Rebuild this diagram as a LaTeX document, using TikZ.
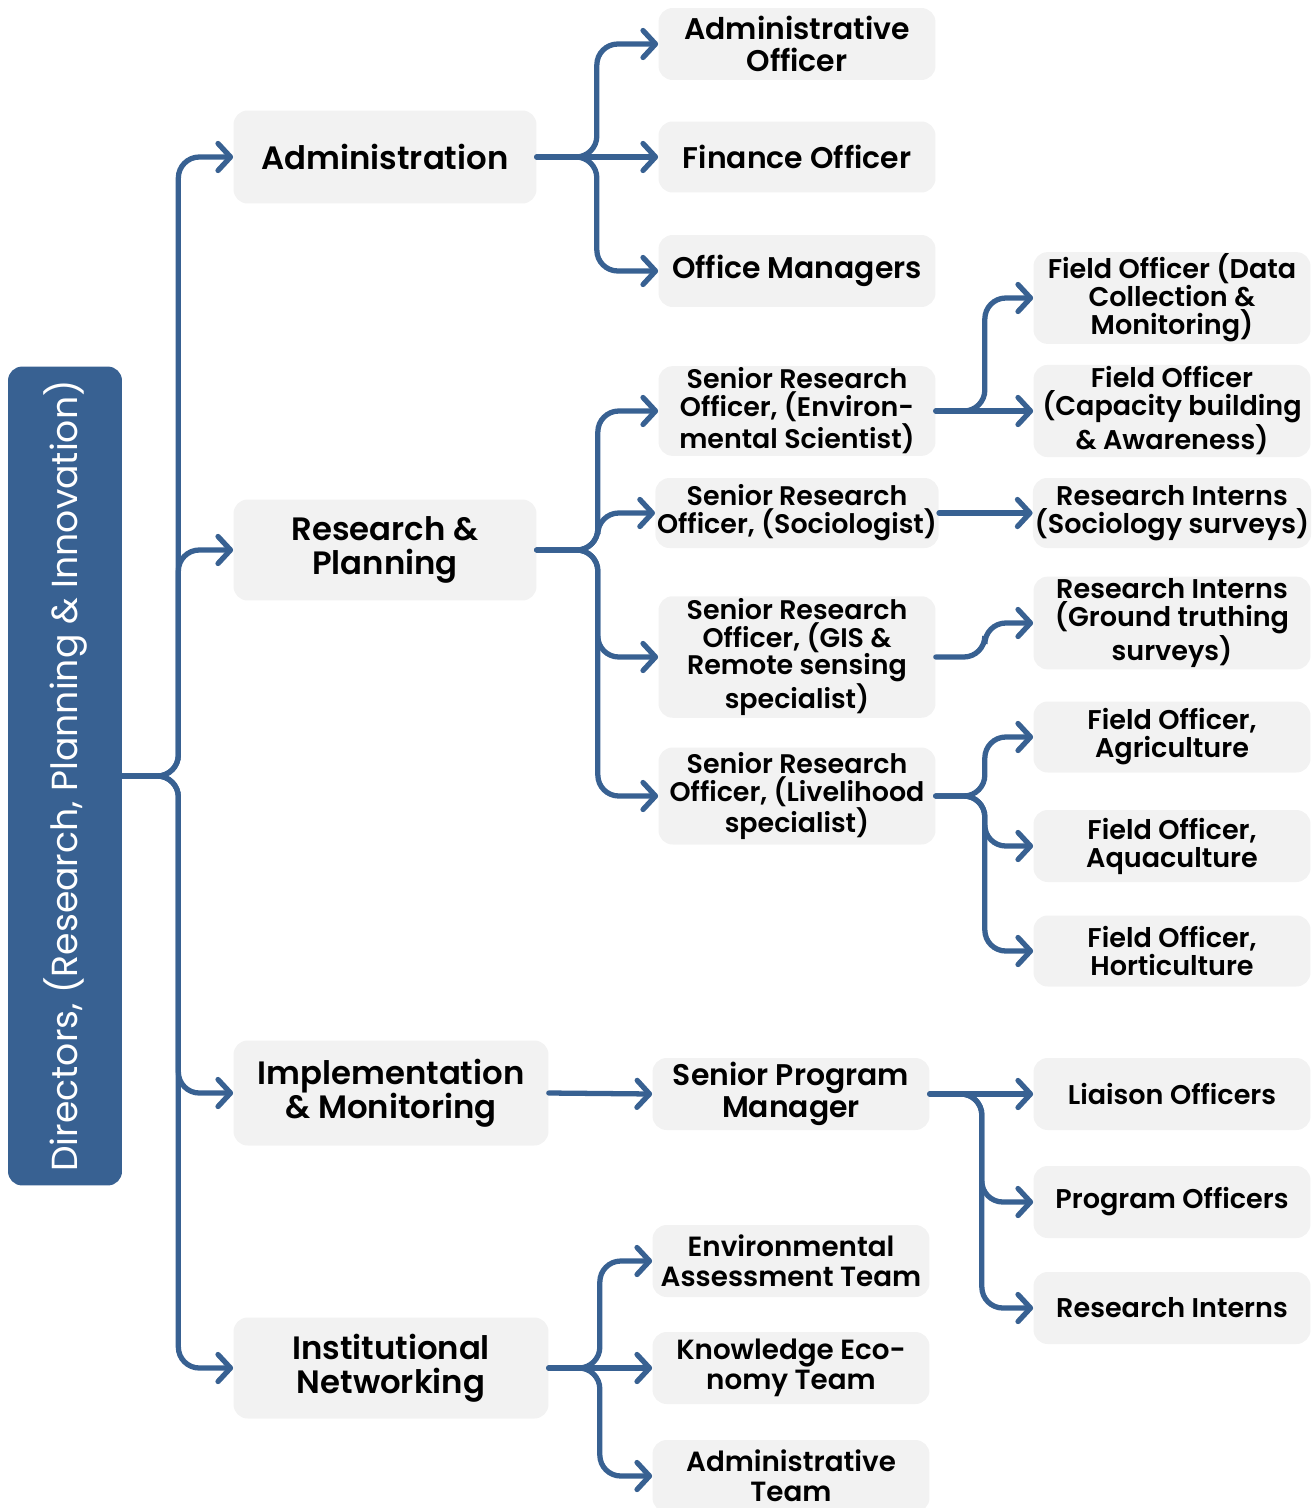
\documentclass[tikz,border=0pt]{standalone}
\usepackage{fontspec}
\setmainfont{Poppins}[BoldFont={Poppins SemiBold}]
\usetikzlibrary{arrows.meta, positioning}
\definecolor{linkblue}{RGB}{56, 97, 146}
\definecolor{boxgray}{RGB}{242, 242, 242}

\tikzset{
    box/.style={fill=boxgray, rounded corners=8pt, align=center, inner sep=1pt,
        text=black, font=\bfseries},
    lvlone/.style={box, minimum width=6.06cm, font=\bfseries\fontsize{18.4}{19.4}\selectfont},
    lvltwo/.style={box, minimum width=5.54cm, font=\bfseries\fontsize{15.3}{15.9}\selectfont},
    lvlthree/.style={box, minimum width=5.54cm, font=\bfseries\fontsize{15.4}{15.9}\selectfont},
    bigtwo/.style={lvltwo, font=\bfseries\fontsize{17}{18}\selectfont},
    teamtwo/.style={lvltwo, font=\bfseries\fontsize{15.8}{17}\selectfont},
    conn/.style={draw=linkblue, line width=3pt, rounded corners=0.42cm, line cap=round,
        -{Straight Barb[length=0.25cm, width=0.54cm, line cap=round, line join=round]}},
}

\begin{document}
\begin{tikzpicture}[x=0.02cm, y=-0.02cm]
    \useasboundingbox (0,0) rectangle (1314,1508);

    % Head
    \node[fill=linkblue, rounded corners=8pt, rotate=90, minimum width=16.38cm, minimum height=2.28cm,
        text=white, font=\fontsize{20.6}{22}\selectfont] (dir) at (65,776)
        {Directors, (Research, Planning \& Innovation)};

    % Departments
    \node[lvlone, minimum height=1.86cm] (adm) at (385,157) {Administration};
    \node[lvlone, minimum height=2.02cm] (rp) at (385,550) {Research \&\\Planning};
    \node[lvlone, minimum width=6.3cm, minimum height=2.1cm] (im) at (391,1093) {Implementation\\\& Monitoring};
    \node[lvlone, minimum width=6.3cm, minimum height=2.02cm] (inst) at (391,1368) {Institutional\\Networking};

    % Administration
    \node[bigtwo, minimum height=1.44cm] (ao) at (797,44) {Administrative\\Officer};
    \node[bigtwo, minimum height=1.42cm] (fo) at (797,157) {Finance Officer};
    \node[bigtwo, minimum height=1.44cm] (om) at (797,271) {Office Managers};

    % Research & Planning
    \node[lvltwo, minimum height=1.76cm] (sroe) at (797,411) {Senior Research\\Officer, (Environ-\\mental Scientist)};
    \node[lvltwo, minimum height=1.4cm] (sros) at (797,513) {Senior Research\\Officer, (Sociologist)};
    \node[lvltwo, minimum height=2.3cm] (srog) at (797,657) {Senior Research\\Officer, (GIS \&\\Remote sensing\\specialist)};
    \node[lvltwo, minimum height=1.94cm] (srol) at (797,796) {Senior Research\\Officer, (Livelihood\\specialist)};

    \node[lvlthree, minimum height=1.72cm] (fod) at (1172,298) {Field Officer (Data\\Collection \&\\Monitoring)};
    \node[lvlthree, minimum height=1.7cm] (foc) at (1172,411) {Field Officer\\(Capacity building\\\& Awareness)};
    \node[lvlthree, minimum height=1.4cm] (ris) at (1172,513) {Research Interns\\(Sociology surveys)};
    \node[lvlthree, minimum height=1.84cm] (rig) at (1172,623) {Research Interns\\(Ground truthing\\surveys)};
    \node[lvlthree, minimum height=1.42cm] (foa) at (1172,737) {Field Officer,\\Agriculture};
    \node[lvlthree, minimum height=1.44cm] (foq) at (1172,846) {Field Officer,\\Aquaculture};
    \node[lvlthree, minimum height=1.42cm] (foh) at (1172,951) {Field Officer,\\Horticulture};

    % Implementation & Monitoring
    \node[bigtwo, minimum height=1.44cm] (spm) at (791,1094) {Senior Program\\Manager};
    \node[lvlthree, minimum height=1.44cm] (lo) at (1172,1094) {Liaison Officers};
    \node[lvlthree, minimum height=1.44cm] (po) at (1172,1202) {Program Officers};
    \node[lvlthree, minimum height=1.44cm] (ri) at (1172,1308) {Research Interns};

    % Institutional Networking
    \node[teamtwo, minimum height=1.44cm] (eat) at (791,1261) {Environmental\\Assessment Team};
    \node[teamtwo, minimum height=1.44cm] (ket) at (791,1368) {Knowledge Eco-\\nomy Team};
    \node[teamtwo, minimum height=1.44cm] (at) at (791,1476) {Administrative\\Team};

    % Connectors
    \foreach \t in {adm, rp, im, inst}
        \draw[conn] (dir.south) -- ++(56,0) |- (\t.west);
    \foreach \t in {ao, om}
        \draw[conn] (adm.east) -- ++(60,0) |- (\t.west);
    \draw[conn] (adm.east) -- (fo.west);
    \foreach \t in {sroe, sros, srog, srol}
        \draw[conn] (rp.east) -- ++(61,0) |- (\t.west);
    \draw[conn] (sroe.east) -- ++(49,0) |- (fod.west);
    \draw[conn] (sroe.east) -- (foc.west);
    \draw[conn] (sros.east) -- (ris.west);
    \draw[conn] (srog.east) -- ++(49,0) |- (rig.west);
    \foreach \t in {foa, foq, foh}
        \draw[conn] (srol.east) -- ++(49,0) |- (\t.west);
    \draw[conn] (im.east) -- (spm.west);
    \draw[conn] (spm.east) -- (lo.west);
    \foreach \t in {po, ri}
        \draw[conn] (spm.east) -- ++(52,0) |- (\t.west);
    \foreach \t in {eat, at}
        \draw[conn] (inst.east) -- ++(51,0) |- (\t.west);
    \draw[conn] (inst.east) -- (ket.west);
\end{tikzpicture}
\end{document}
